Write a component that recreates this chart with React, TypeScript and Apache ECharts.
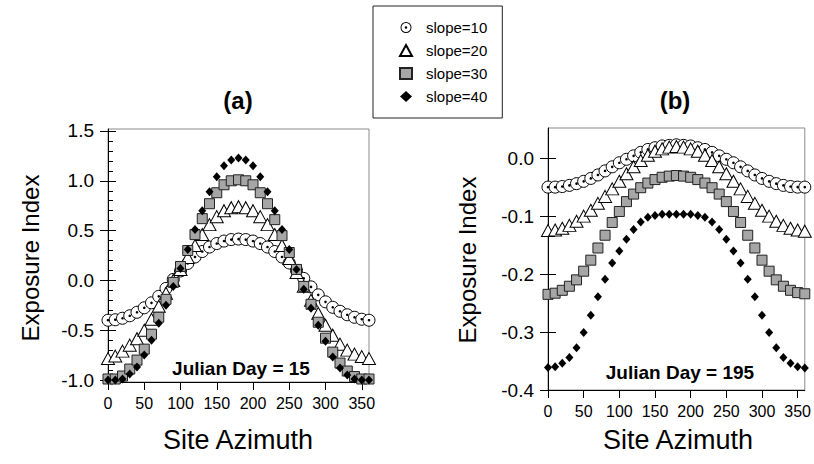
import React, { useEffect, useRef } from 'react';
import * as echarts from 'echarts';

const azimuth = [0, 10, 20, 30, 40, 50, 60, 70, 80, 90, 100, 110, 120, 130, 140, 150, 160, 170, 180, 190, 200, 210, 220, 230, 240, 250, 260, 270, 280, 290, 300, 310, 320, 330, 340, 350, 360];

// Panel (a): Julian Day = 15
const slope10A = [-0.40, -0.395, -0.38, -0.355, -0.32, -0.275, -0.225, -0.16, -0.08, 0.01, 0.095, 0.17, 0.235, 0.29, 0.335, 0.37, 0.395, 0.41, 0.415, 0.41, 0.395, 0.37, 0.335, 0.29, 0.235, 0.175, 0.10, 0.02, -0.065, -0.145, -0.215, -0.27, -0.31, -0.345, -0.37, -0.39, -0.40];
const slope20A = [-0.785, -0.76, -0.71, -0.65, -0.585, -0.50, -0.39, -0.26, -0.13, 0.0, 0.11, 0.23, 0.35, 0.46, 0.56, 0.64, 0.70, 0.73, 0.74, 0.73, 0.70, 0.64, 0.56, 0.46, 0.35, 0.22, 0.08, -0.06, -0.20, -0.33, -0.45, -0.55, -0.64, -0.70, -0.74, -0.765, -0.785];
const slope30A = [-0.99, -0.99, -0.96, -0.89, -0.80, -0.69, -0.54, -0.37, -0.19, -0.02, 0.14, 0.30, 0.46, 0.62, 0.77, 0.88, 0.96, 1.0, 1.01, 1.0, 0.96, 0.88, 0.77, 0.61, 0.45, 0.28, 0.11, -0.06, -0.24, -0.42, -0.58, -0.72, -0.83, -0.91, -0.965, -0.99, -0.99];
const slope40A = [-1.0, -1.0, -0.99, -0.94, -0.87, -0.75, -0.60, -0.43, -0.25, -0.06, 0.12, 0.31, 0.51, 0.70, 0.89, 1.04, 1.15, 1.21, 1.23, 1.21, 1.15, 1.04, 0.89, 0.70, 0.51, 0.31, 0.11, -0.09, -0.28, -0.45, -0.61, -0.77, -0.88, -0.95, -0.99, -1.0, -1.0];

// Panel (b): Julian Day = 195
const slope10B = [-0.050, -0.050, -0.049, -0.047, -0.044, -0.040, -0.035, -0.029, -0.022, -0.015, -0.008, -0.002, 0.004, 0.010, 0.015, 0.018, 0.021, 0.022, 0.023, 0.022, 0.021, 0.018, 0.015, 0.010, 0.004, -0.002, -0.008, -0.015, -0.022, -0.029, -0.035, -0.040, -0.044, -0.047, -0.049, -0.050, -0.050];
const slope20B = [-0.125, -0.124, -0.121, -0.116, -0.109, -0.100, -0.090, -0.078, -0.066, -0.053, -0.040, -0.027, -0.015, -0.004, 0.005, 0.012, 0.016, 0.019, 0.020, 0.019, 0.016, 0.012, 0.005, -0.004, -0.015, -0.027, -0.040, -0.053, -0.066, -0.078, -0.090, -0.100, -0.109, -0.116, -0.121, -0.124, -0.126];
const slope30B = [-0.235, -0.233, -0.228, -0.221, -0.210, -0.195, -0.176, -0.155, -0.133, -0.111, -0.092, -0.075, -0.062, -0.051, -0.043, -0.037, -0.033, -0.031, -0.030, -0.031, -0.033, -0.037, -0.043, -0.051, -0.062, -0.075, -0.092, -0.111, -0.133, -0.155, -0.176, -0.195, -0.210, -0.221, -0.228, -0.232, -0.234];
const slope40B = [-0.361, -0.360, -0.354, -0.344, -0.327, -0.301, -0.271, -0.239, -0.209, -0.181, -0.160, -0.140, -0.123, -0.110, -0.102, -0.099, -0.097, -0.097, -0.097, -0.097, -0.097, -0.099, -0.102, -0.110, -0.123, -0.140, -0.160, -0.181, -0.209, -0.239, -0.271, -0.301, -0.327, -0.344, -0.354, -0.360, -0.362];

const seriesNames = ['slope=10', 'slope=20', 'slope=30', 'slope=40'];
const xTicks = [0, 50, 100, 150, 200, 250, 300, 350];
const yTicksA = [-1.0, -0.5, 0.0, 0.5, 1.0, 1.5];
const yMinorTicksA = [-0.9, -0.8, -0.7, -0.6, -0.4, -0.3, -0.2, -0.1, 0.1, 0.2, 0.3, 0.4, 0.6, 0.7, 0.8, 0.9, 1.1, 1.2, 1.3, 1.4];
const yTicksB = [-0.4, -0.3, -0.2, -0.1, 0.0];

const FONT = "'Liberation Sans', Arial, Helvetica, sans-serif";
const RING_DOT = 'path://M10,0A10,10,0,1,1,-10,0A10,10,0,1,1,10,0ZM8.3,0A8.3,8.3,0,1,0,-8.3,0A8.3,8.3,0,1,0,8.3,0ZM2.3,0A2.3,2.3,0,1,1,-2.3,0A2.3,2.3,0,1,1,2.3,0Z';

const pairs = (vals: number[]) => azimuth.map((a, i) => [a, vals[i]]);

function panelSeries(vals: number[][], xIdx: number, yIdx: number) {
  const [c, t, s, d] = vals;
  return [
    {
      name: seriesNames[0], type: 'scatter', xAxisIndex: xIdx, yAxisIndex: yIdx,
      data: pairs(c), symbol: 'circle', symbolSize: 12,
      itemStyle: { color: '#fff', borderColor: '#000', borderWidth: 1, opacity: 1 },
    },
    {
      name: 'dot' + xIdx, type: 'scatter', xAxisIndex: xIdx, yAxisIndex: yIdx, silent: true,
      data: pairs(c), symbol: 'circle', symbolSize: 2.6,
      itemStyle: { color: '#000', opacity: 1 },
    },
    {
      name: seriesNames[1], type: 'scatter', xAxisIndex: xIdx, yAxisIndex: yIdx,
      data: pairs(t), symbol: 'triangle', symbolSize: [13, 12],
      itemStyle: { color: '#fff', borderColor: '#000', borderWidth: 1, opacity: 1 },
    },
    {
      name: seriesNames[2], type: 'scatter', xAxisIndex: xIdx, yAxisIndex: yIdx,
      data: pairs(s), symbol: 'rect', symbolSize: 10,
      itemStyle: { color: '#a6a6a6', borderColor: '#222', borderWidth: 1, opacity: 1 },
    },
    {
      name: seriesNames[3], type: 'scatter', xAxisIndex: xIdx, yAxisIndex: yIdx,
      data: pairs(d), symbol: 'diamond', symbolSize: [8, 9],
      itemStyle: { color: '#000', opacity: 1 },
    },
  ];
}

function xAxisFor(gridIndex: number) {
  return {
    type: 'value', gridIndex, min: 0, max: 360, position: 'bottom',
    axisLine: { show: true, onZero: false, lineStyle: { color: '#000', width: 1 } },
    axisTick: { show: true, inside: false, length: 8, customValues: xTicks, lineStyle: { color: '#000' } },
    axisLabel: { show: true, customValues: xTicks, color: '#000', fontSize: 16, fontFamily: FONT, margin: 13, formatter: (v: number) => String(v) },
    splitLine: { show: false },
  };
}

function yAxisMain(gridIndex: number, min: number, max: number, ticks: number[]) {
  return {
    type: 'value', gridIndex, min, max, position: 'left', offset: 0,
    axisLine: { show: true, onZero: false, lineStyle: { color: '#000', width: 1 } },
    axisTick: { show: true, inside: false, length: 8, customValues: ticks, lineStyle: { color: '#000' } },
    axisLabel: { show: true, customValues: ticks, color: '#000', fontSize: 19, fontFamily: FONT, margin: 14, formatter: (v: number) => v.toFixed(1) },
    splitLine: { show: false },
  };
}

function yAxisInner(gridIndex: number, min: number, max: number, ticks: number[], len: number) {
  return {
    type: 'value', gridIndex, min, max, position: 'left', offset: 0,
    axisLine: { show: false, onZero: false },
    axisTick: { show: true, inside: true, length: len, customValues: ticks, lineStyle: { color: '#000' } },
    axisLabel: { show: false },
    splitLine: { show: false },
  };
}

const textEl = (text: string, x: number, y: number, font: string, rotation = 0) => ({
  type: 'text', x, y, rotation, silent: true,
  style: { text, font, fill: '#000', textAlign: 'center', textVerticalAlign: 'middle', align: 'center', verticalAlign: 'middle' },
});

export default function App() {
  const ref = useRef<HTMLDivElement>(null);
  useEffect(() => {
    if (!ref.current) return;
    const chart = echarts.init(ref.current, null, { renderer: 'svg' });
    const gridStyle = { show: true, borderColor: '#8a8a8a', borderWidth: 1, backgroundColor: 'transparent' };
    chart.setOption({
      animation: false,
      backgroundColor: '#fff',
      grid: [
        { left: 108, top: 129, width: 261, height: 253, ...gridStyle },
        { left: 548, top: 128, width: 261, height: 262, ...gridStyle },
      ],
      xAxis: [xAxisFor(0), xAxisFor(1)],
      yAxis: [
        yAxisMain(0, -1.02, 1.52, yTicksA),
        yAxisInner(0, -1.02, 1.52, yTicksA, 8),
        yAxisInner(0, -1.02, 1.52, yMinorTicksA, 5),
        yAxisMain(1, -0.4, 0.052, yTicksB),
        yAxisInner(1, -0.4, 0.052, yTicksB, 8),
      ],
      legend: {
        orient: 'vertical', left: 373, top: 6,
        padding: [14, 15, 14, 26], itemGap: 8, itemWidth: 12, itemHeight: 11,
        borderColor: '#222', borderWidth: 1, backgroundColor: '#fff',
        textStyle: { fontSize: 15, fontFamily: FONT, color: '#000', padding: [0, 0, 0, 9] },
        data: [
          { name: seriesNames[0], icon: RING_DOT, itemStyle: { color: '#000', borderWidth: 0 } },
          { name: seriesNames[1] },
          { name: seriesNames[2] },
          { name: seriesNames[3] },
        ],
        selectedMode: false,
      },
      graphic: [
        textEl('(a)', 238, 100, `bold 24px ${FONT}`),
        textEl('(b)', 675, 100, `bold 24px ${FONT}`),
        textEl('Exposure Index', 30, 258, `24px ${FONT}`, Math.PI / 2),
        textEl('Exposure Index', 467, 260, `24px ${FONT}`, Math.PI / 2),
        textEl('Site Azimuth', 238, 440, `27px ${FONT}`),
        textEl('Site Azimuth', 678, 440, `27px ${FONT}`),
        textEl('Julian Day = 15', 241, 368, `bold 19px ${FONT}`),
        textEl('Julian Day = 195', 680, 372, `bold 19px ${FONT}`),
      ],
      series: [
        ...panelSeries([slope10A, slope20A, slope30A, slope40A], 0, 0),
        ...panelSeries([slope10B, slope20B, slope30B, slope40B], 1, 3),
      ],
    });
    return () => chart.dispose();
  }, []);
  return <div ref={ref} style={{ position: 'fixed', left: 0, top: 0, width: 814, height: 464 }} />;
}
